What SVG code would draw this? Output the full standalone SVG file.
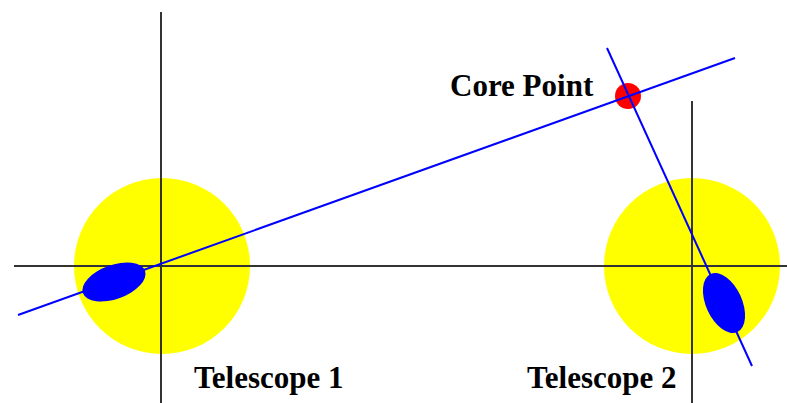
<svg xmlns="http://www.w3.org/2000/svg" width="787" height="403" viewBox="0 0 787 403">
<style>
.axis{stroke:#333;stroke-width:2;fill:none}
.ray{stroke:#0000ff;stroke-width:2;fill:none}
.lbl{font-family:"Liberation Serif",serif;font-weight:bold;font-size:31px;fill:#000}
</style>
<rect width="787" height="403" fill="#fff"/>
<g id="telescope1">
<circle cx="162" cy="266" r="88" fill="#ffff00"/>
</g>
<g id="telescope2">
<circle cx="692" cy="266" r="88" fill="#ffff00"/>
</g>
<g id="axes">
<line class="axis" x1="14" y1="266" x2="787" y2="266"/>
<line class="axis" x1="161" y1="12" x2="161" y2="403"/>
<line class="axis" x1="692" y1="101" x2="692" y2="403"/>
</g>
<g id="corepoint">
<circle cx="628" cy="96" r="13" fill="#ff0000"/>
</g>
<g id="connectors">
<line class="ray" x1="18" y1="315" x2="735" y2="58"/>
<line class="ray" x1="607" y1="48" x2="752" y2="366"/>
</g>
<g id="image1">
<ellipse cx="114" cy="282" rx="33" ry="17" transform="rotate(-20 114 282)" fill="#0000ff"/>
</g>
<g id="image2">
<ellipse cx="724" cy="303" rx="32" ry="18" transform="rotate(65.5 724 303)" fill="#0000ff"/>
</g>
<text class="lbl" x="450" y="96">Core Point</text>
<text class="lbl" x="194" y="388">Telescope 1</text>
<text class="lbl" x="527" y="388">Telescope 2</text>
</svg>
